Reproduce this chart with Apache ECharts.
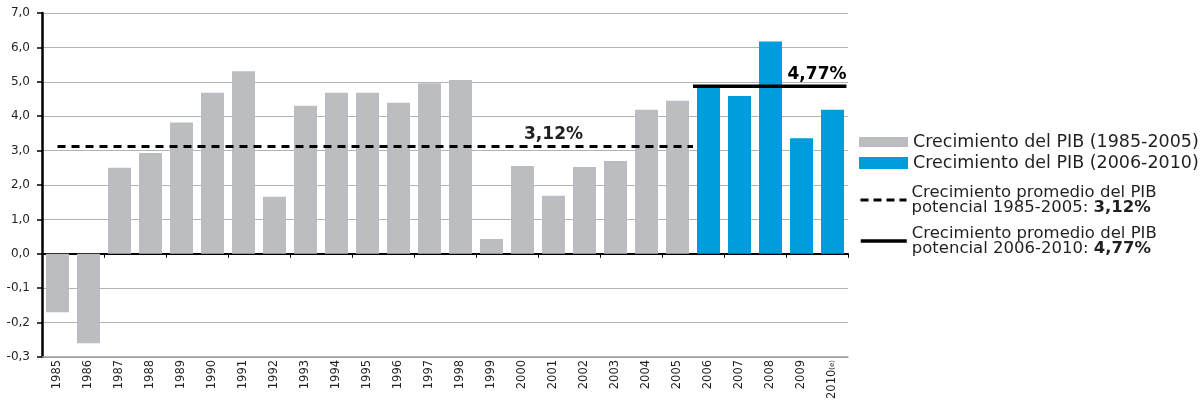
<!DOCTYPE html>
<html>
<head>
<meta charset="utf-8">
<script src="https://cdn.jsdelivr.net/npm/echarts@6/dist/echarts.min.js"></script>
<style>
  html, body { margin: 0; padding: 0; background: #fff; }
  #chart { width: 1203px; height: 402px; }
</style>
</head>
<body>
<div id="chart"></div>
<script>
// ---- data ----
const years = ['1985','1986','1987','1988','1989','1990','1991','1992','1993','1994','1995','1996','1997','1998','1999','2000','2001','2002','2003','2004','2005','2006','2007','2008','2009','2010'];
const yearLabels = ['1985','1986','1987','1988','1989','1990','1991','1992','1993','1994','1995','1996','1997','1998','1999','2000','2001','2002','2003','2004','2005','2006','2007','2008','2009','2010{e|(e)}'];
const pibHist = [-0.17, -0.26, 2.50, 2.93, 3.82, 4.68, 5.31, 1.66, 4.30, 4.68, 4.68, 4.39, 4.96, 5.05, 0.43, 2.55, 1.69, 2.52, 2.70, 4.19, 4.45];
const pibRecent = [4.82, 4.59, 6.17, 3.36, 4.19];
const avgLevels = [3.12, 4.87];
const avgLabels = ['3,12%', '4,77%'];
const avgSpans = [[1985, 2005.5], [2005.5, 2010.45]];
const avgLabelAt = [2001, 2009.5];
const seriesNames = ['Crecimiento del PIB (1985-2005)', 'Crecimiento del PIB (2006-2010)', 'Crecimiento promedio del PIB potencial 1985-2005', 'Crecimiento promedio del PIB potencial 2006-2010'];
const legendTexts = ['Crecimiento del PIB (1985-2005)', 'Crecimiento del PIB (2006-2010)', 'Crecimiento promedio del PIB\npotencial 1985-2005: {b|3,12%}', 'Crecimiento promedio del PIB\npotencial 2006-2010: {b|4,77%}'];
const yTicks = { min: -3, max: 7, interval: 1 };

// negative part of the axis is magnified x10 in the original
const toAxis = v => (v == null ? null : (v < 0 ? v * 10 : v));
const fromAxis = v => (v < 0 ? v / 10 : v);

const FONT = 'DejaVu Sans';
const grayBar = '#bcbdc0';
const blueBar = '#009ddc';

const histData = years.map((y, i) => i < pibHist.length ? toAxis(pibHist[i]) : null);
const recentData = years.map((y, i) => i >= pibHist.length ? toAxis(pibRecent[i - pibHist.length]) : null);

function avgSeries(k, name, lineType, width) {
  return {
    name: name,
    type: 'line',
    xAxisIndex: 2,
    yAxisIndex: 0,
    symbol: 'none',
    z: 5,
    lineStyle: { color: '#000', width: width, type: lineType },
    data: [[avgSpans[k][0], avgLevels[k]], [avgSpans[k][1], avgLevels[k]]],
    markPoint: {
      symbol: 'rect',
      symbolSize: 1,
      itemStyle: { color: 'transparent' },
      label: {
        show: true, position: 'top', distance: 3,
        formatter: avgLabels[k],
        fontFamily: FONT, fontWeight: 'bold', fontSize: 17, color: k === 0 ? '#231f20' : '#000'
      },
      data: [{ coord: [avgLabelAt[k], avgLevels[k]] }]
    }
  };
}

function legendFor(idx, top, iconH, iconW, lineW, lineType) {
  const item = { name: seriesNames[idx] };
  if (idx < 2) item.icon = 'rect';
  const lg = {
    show: true,
    orient: 'vertical',
    left: 859,
    top: top,
    padding: 0,
    itemWidth: iconW,
    itemHeight: iconH,
    selectedMode: false,
    data: [item],
    formatter: () => legendTexts[idx],
    textStyle: {
      fontFamily: FONT, fontSize: idx < 2 ? 17.5 : 16.5, color: '#231f20',
      lineHeight: idx < 2 ? 18 : 15,
      rich: { b: { fontFamily: FONT, fontSize: 16.5, fontWeight: 'bold', color: '#231f20', lineHeight: 15 } }
    }
  };
  if (lineW) {
    lg.lineStyle = { width: lineW, type: lineType, color: '#000' };
    lg.itemStyle = { opacity: 0 };
  }
  return lg;
}

const chart = echarts.init(document.getElementById('chart'), null, { renderer: 'canvas' });
chart.setOption({
  animation: false,
  backgroundColor: '#fff',
  grid: { left: 42, right: 355, top: 13, bottom: 40, containLabel: false },
  legend: [
    legendFor(0, 133, 10, 49),
    legendFor(1, 154, 12, 49),
    legendFor(2, 184, 10, 46, 3, [8, 5]),
    legendFor(3, 225, 10, 46, 3.5, 'solid')
  ],
  xAxis: [
    {
      type: 'category', data: yearLabels, position: 'bottom',
      axisLine: { onZero: false, lineStyle: { color: '#9a9a9a', width: 1.5 } },
      axisTick: { show: false },
      axisLabel: {
        rotate: 90, margin: 3, fontFamily: FONT, fontSize: 11.5, color: '#231f20', interval: 0,
        rich: { e: { fontFamily: FONT, fontSize: 7, color: '#231f20' } }
      },
      splitLine: { show: false }
    },
    {
      type: 'category', data: years, position: 'bottom',
      axisLine: { onZero: true, lineStyle: { color: '#000', width: 2 } },
      axisTick: { show: true, length: 4, lineStyle: { color: '#000', width: 1 } },
      axisLabel: { show: false },
      splitLine: { show: false }
    },
    {
      type: 'value', min: 1984.5, max: 2010.5, show: false
    }
  ],
  yAxis: {
    type: 'value', min: yTicks.min, max: yTicks.max, interval: yTicks.interval,
    axisLine: { show: true, lineStyle: { color: '#000', width: 2.5 } },
    axisTick: { show: true, length: 5, lineStyle: { color: '#000', width: 1.5 } },
    axisLabel: {
      margin: 12, fontFamily: FONT, fontSize: 12, color: '#231f20',
      formatter: v => fromAxis(v).toFixed(1).replace('.', ',')
    },
    splitLine: { show: true, lineStyle: { color: '#b3b3b3', width: 1 } }
  },
  series: [
    {
      name: seriesNames[0], type: 'bar', xAxisIndex: 0, barWidth: 23, barGap: '-100%',
      itemStyle: { color: grayBar }, data: histData
    },
    {
      name: seriesNames[1], type: 'bar', xAxisIndex: 0, barWidth: 23, barGap: '-100%',
      itemStyle: { color: blueBar }, data: recentData
    },
    avgSeries(0, seriesNames[2], [8, 6], 3),
    avgSeries(1, seriesNames[3], 'solid', 3.5)
  ]
});
</script>
</body>
</html>
